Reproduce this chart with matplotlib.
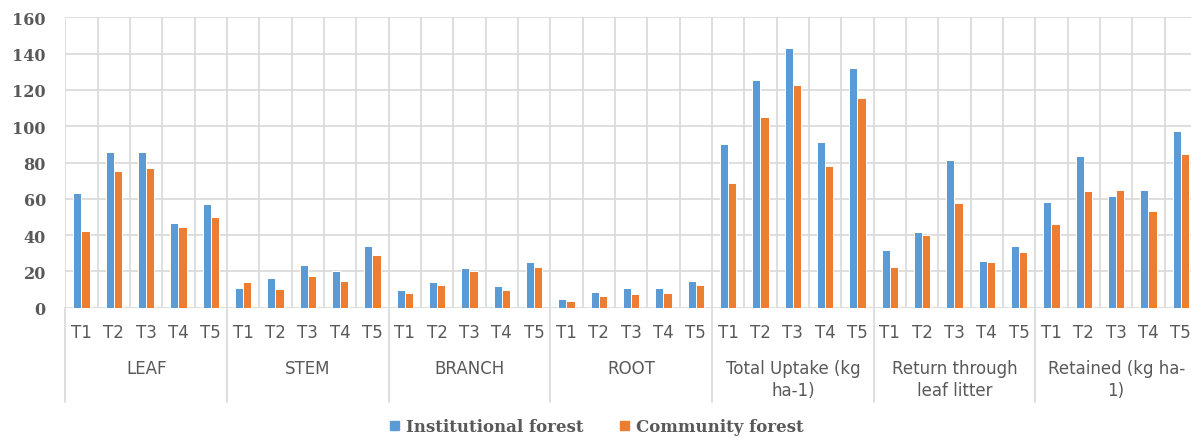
import numpy as np
import matplotlib
matplotlib.use('Agg')
import matplotlib.pyplot as plt
from matplotlib.patches import Patch

groups = ['LEAF', 'STEM', 'BRANCH', 'ROOT', 'Total Uptake (kg\nha-1)',
          'Return through\nleaf litter', 'Retained (kg ha-\n1)']
treatments = ['T1', 'T2', 'T3', 'T4', 'T5']

institutional = [63, 85.6, 85.6, 46.7, 57,
                 11, 16.3, 23.3, 20, 34.2,
                 9.9, 14.1, 21.9, 12.1, 25,
                 4.6, 8.8, 11, 11, 14.7,
                 90, 125.6, 142.9, 91.1, 132.1,
                 31.6, 41.7, 81.2, 25.5, 34.2,
                 58, 83.4, 61.4, 65, 97.5]
community = [42.4, 75.3, 77, 44.5, 50,
             14.1, 10.3, 17.5, 14.7, 28.8,
             8.3, 12.5, 20.2, 9.9, 22.4,
             3.5, 6.2, 7.3, 8.3, 12.5,
             68.9, 105, 122.9, 78.1, 115.4,
             22.4, 40.2, 57.7, 25, 30.5,
             46.1, 64.5, 65, 53.3, 84.7]

blue = '#5B9BD5'
orange = '#ED7D31'
grid_c = '#D9D9D9'
text_c = '#595959'

W, H = 1191, 439
fig = plt.figure(figsize=(W / 100, H / 100), dpi=100)
x0, x1, y0, y1 = 65.3, 1197, 308.7, 18.3
ax = fig.add_axes([x0 / W, 1 - y0 / H, (x1 - x0) / W, (y0 - y1) / H])

n = len(institutional)
x = np.arange(n) + 0.5
bw = 0.25
ax.bar(x - bw / 2, institutional, bw, color=blue, edgecolor='white', linewidth=0.7, zorder=3)
ax.bar(x + bw / 2, community, bw, color=orange, edgecolor='white', linewidth=0.7, zorder=3)

ax.set_xlim(0, n)
ax.set_ylim(0, 160)
ax.set_yticks(np.arange(0, 161, 20))
ax.set_xticks([])
for s in ax.spines.values():
    s.set_visible(False)
ax.yaxis.grid(True, color=grid_c, linewidth=1.2, zorder=0)
for i in range(n + 1):
    ax.axvline(i, color=grid_c, linewidth=1.2, zorder=0)
ax.tick_params(axis='y', length=0, pad=14, labelcolor=text_c)
for lab in ax.get_yticklabels():
    lab.set_fontfamily('DejaVu Serif')
    lab.set_fontweight('bold')
    lab.set_fontsize(11.5)

# category axis: treatment labels, group labels and separators
tr = ax.get_xaxis_transform()
px = 1.0 / (y0 - y1)
for i in range(n):
    ax.text(x[i], -(333 - y0) * px, treatments[i % 5], transform=tr,
            ha='center', va='center', fontsize=12, color=text_c)
for g, name in enumerate(groups):
    ax.text(g * 5 + 2.5, -(360 - y0) * px, name, transform=tr, ha='center',
            va='top', fontsize=12, color=text_c, linespacing=1.25)
for g in range(len(groups) + 1):
    ax.plot([g * 5, g * 5], [0, -(403 - y0) * px], transform=tr,
            color=grid_c, linewidth=1.2, clip_on=False)

handles = [Patch(color=blue, label='Institutional forest'),
           Patch(color=orange, label='Community forest')]
fig.legend(handles=handles, loc='center', bbox_to_anchor=(597 / W, 1 - 428 / H),
           ncol=2, frameon=False, handlelength=0.5, handleheight=0.5,
           handletextpad=0.45, columnspacing=2.2,
           prop={'family': 'DejaVu Serif', 'weight': 'bold', 'size': 12},
           labelcolor=text_c)

fig.savefig('out.png', dpi=100)
